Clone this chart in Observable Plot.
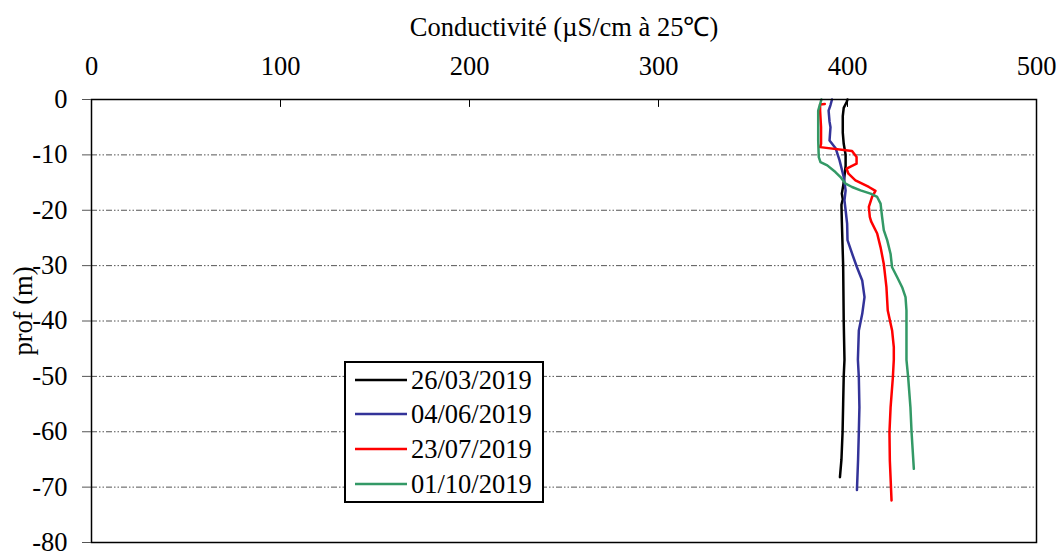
<!DOCTYPE html>
<html><head><meta charset="utf-8">
<script src="https://cdn.jsdelivr.net/npm/d3@7"></script>
<script src="https://cdn.jsdelivr.net/npm/@observablehq/plot@0.6"></script>
<style>body{margin:0;background:#fff} #chart{width:1060px;height:552px}</style>
</head><body><div id="chart"></div><script>
// ---- data: [depth (m), conductivity (µS/cm à 25°C)] ----
const seriesNames = ["26/03/2019", "04/06/2019", "23/07/2019", "01/10/2019"];
const seriesColors = ["#000000", "#333399", "#ff0000", "#339966"];
const s260319 = [[0,400],[-0.5,399.5],[-1.5,398],[-3,397.5],[-6,397.5],[-8,398],[-10,399],[-12,399],[-15,398],[-17,397],[-18,397.5],[-19,396.8],[-22,397],[-30,397.7],[-40,398],[-47,398.4],[-50,398],[-55,397.7],[-60,397.4],[-65,396.8],[-68.2,396]];
const s040619 = [[0,391.8],[-1,391],[-2,390],[-4,390.5],[-5,391],[-7.4,390.5],[-8.8,393.7],[-11,395.8],[-14,398],[-16.4,399],[-18.2,398.4],[-20,399],[-22.4,399.8],[-25.4,400],[-27.8,402.4],[-30.3,405],[-32.7,407.8],[-35.7,409],[-38.7,407.8],[-41.7,406],[-47,405.5],[-50.2,406],[-55.6,406.3],[-60,406],[-65,405.6],[-70.5,405]];
const s230719 = [[-0.8,388],[-0.9,385.5],[-2,385.5],[-5,386],[-8,386],[-8.6,385.5],[-9.3,402.4],[-10.4,404.8],[-11.6,404.8],[-12.5,399.5],[-13.4,400.5],[-14.6,404.2],[-15.8,411.3],[-16.5,414.8],[-17.6,413],[-19.4,411.3],[-21.2,411.8],[-22,412.5],[-24.2,415.7],[-26.7,417.5],[-29.7,419.2],[-33.9,420.6],[-38.1,421.3],[-41.7,423.6],[-44.7,424.5],[-47,424.5],[-50.2,424],[-55.6,422.8],[-60.1,422.2],[-65.2,422.4],[-72.4,423.3]];
const s011019 = [[0,386.2],[-2,384.5],[-7.4,384.5],[-10.4,384.8],[-11.3,385.7],[-11.9,389.3],[-13.1,393.6],[-14,396.3],[-15.2,399],[-15.8,402.4],[-16.4,406.9],[-17,412.2],[-17.6,415.7],[-18.8,417.5],[-21.2,418.3],[-23.6,419.2],[-25.4,421],[-27.9,422.8],[-30.3,423.6],[-32.1,426.3],[-33.9,428.9],[-35.7,430.7],[-38.1,431.2],[-47,431.2],[-50.2,432.1],[-55.6,433.3],[-60.1,433.9],[-66.7,435.1]];
const xTicks = [0, 100, 200, 300, 400, 500];
const yTicks = [0, -10, -20, -30, -40, -50, -60, -70, -80];
const xTitle = "Conductivité (µS/cm à 25℃)";
const yTitle = "prof (m)";

const allSeries = [s260319, s040619, s230719, s011019];
const rows = allSeries.flatMap((s, i) => s.map(([depth, cond]) => ({series: seriesNames[i], depth, cond})));

const FONT = "'Liberation Serif', 'Times New Roman', serif";
const FS = 26.5;

const tickShape = {draw(ctx, l) { ctx.moveTo(0, 0); ctx.lineTo(0, -l); }};

const chart = Plot.plot({
  width: 1060, height: 552,
  marginTop: 99, marginLeft: 91, marginRight: 24, marginBottom: 10,
  style: {fontFamily: FONT, fontSize: FS + "px", background: "#fff", color: "#000"},
  x: {domain: [0, 500]},
  y: {domain: [-80, 0]},
  color: {domain: seriesNames, range: seriesColors},
  marks: [
    Plot.ruleY(yTicks.filter(d => d !== 0 && d !== -80), {stroke: "#555", strokeWidth: 1, strokeDasharray: "6,2,1.5,2,1.5,2"}),
    Plot.line(rows, {x: "cond", y: "depth", z: "series", stroke: "series", strokeWidth: 2.5, curve: "linear"}),
    Plot.frame({stroke: "#000", strokeWidth: 1.5}),
    Plot.axisX({anchor: "top", ticks: xTicks, tickSize: 0, tickPadding: 25, fontSize: FS, label: null, tickFormat: d => String(d)}),
    Plot.vector(xTicks, {x: d => d, frameAnchor: "top", length: 7, rotate: 180, anchor: "start", shape: tickShape, stroke: "#000", strokeWidth: 1}),
    Plot.axisY({anchor: "left", ticks: yTicks, tickSize: 9, tickPadding: 15, fontSize: FS, label: null, tickFormat: d => String(d), stroke: "#555"}),
    Plot.text([xTitle], {text: d => d, frameAnchor: "top", dy: -72, lineAnchor: "middle", textAnchor: "middle", fontSize: FS}),
    Plot.text([yTitle], {text: d => d, frameAnchor: "left", dx: -68, dy: -10, rotate: -90, lineAnchor: "middle", textAnchor: "middle", fontSize: FS})
  ]
});
document.getElementById("chart").appendChild(chart);

// ---- legend box inside the plot ----
const svg = d3.select(chart);
const lg = svg.append("g").attr("font-family", FONT).attr("font-size", FS).attr("text-anchor", "start");
lg.append("rect").attr("x", 345).attr("y", 362).attr("width", 198).attr("height", 140)
  .attr("fill", "#fff").attr("stroke", "#000").attr("stroke-width", 2);
const rowY = [380, 414, 449, 484];
seriesNames.forEach((name, i) => {
  lg.append("line").attr("x1", 355).attr("x2", 407).attr("y1", rowY[i]).attr("y2", rowY[i])
    .attr("stroke", seriesColors[i]).attr("stroke-width", 2.5);
  lg.append("text").attr("x", 411).attr("y", rowY[i]).attr("dy", "0.34em").attr("text-anchor", "start").text(name);
});
</script></body></html>
